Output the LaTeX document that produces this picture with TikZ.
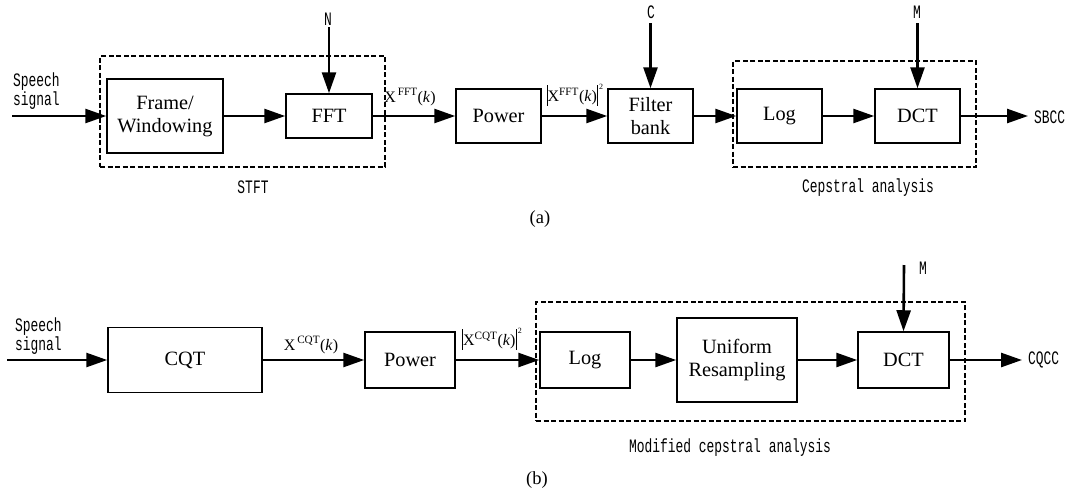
\documentclass[tikz,border=0pt]{standalone}
\usepackage{fontspec}
\setmainfont{Liberation Serif}
\newfontfamily\monof[FakeStretch=0.68]{Liberation Mono}
\usetikzlibrary{arrows.meta}
\tikzset{
  box/.style={draw, line width=1.5pt, font=\fontsize{20.3}{23}\selectfont, align=center, inner sep=0pt},
  dbox/.style={draw, line width=1.8pt, dash pattern=on 5pt off 2.5pt, inner sep=0pt},
  arr/.style={line width=2.6pt, -{Triangle[length=21pt,width=14pt]}},
  mono/.style={font=\monof\fontsize{19}{19}\selectfont, inner sep=0pt},
  sig/.style={font=\fontsize{16}{18}\selectfont, inner sep=0pt},
  subcap/.style={font=\fontsize{18.5}{20}\selectfont, inner sep=0pt}
}
\newcommand{\xsup}[1]{X\textsuperscript{\,#1}(\textit{k})}
\newcommand{\absbar}{\rule[-4.5pt]{0.9pt}{21pt}}
\newcommand{\xabs}[1]{\absbar X\textsuperscript{#1}(\textit{k})\absbar\raisebox{12pt}{\fontsize{8}{8}\selectfont\,2}}
\begin{document}
\begin{tikzpicture}[x=1pt,y=-1pt]
\useasboundingbox (0,0) rectangle (1070,493);
% ---------- (a) ----------
\node[dbox, minimum width=285pt, minimum height=111pt] (stft) at (242.5,111.5) {};
\node[dbox, minimum width=243pt, minimum height=106pt] (cep) at (854.5,114) {};
\node[box, minimum width=116pt, minimum height=74pt] (fw) at (165,116) {Frame/\\Windowing};
\node[box, minimum width=86pt, minimum height=44pt] (fft) at (329,116) {FFT};
\node[box, minimum width=85pt, minimum height=54pt] (pow1) at (498.5,116) {Power};
\node[box, minimum width=85pt, minimum height=54pt] (fb) at (650.5,116) {Filter\\bank};
\node[box, minimum width=85pt, minimum height=54pt] (log1) at (779.5,116) {Log};
\node[box, minimum width=85pt, minimum height=54pt] (dct1) at (917.5,116) {DCT};

\node[mono, align=left, anchor=west] (sp1) at (13,91) {Speech\\signal};
\node[mono] (N) at (328,19) {N};
\node[mono] (C) at (651,12) {C};
\node[mono] (M1) at (917,12) {M};
\node[mono, anchor=west] (sbcc) at (1034,117) {SBCC};
\node[mono] (stftl) at (253,187) {STFT};
\node[mono] (cepl) at (868,188) {Cepstral analysis};
\node[sig] (l1) at (410,97) {\xsup{FFT}};
\node[sig] (l2) at (575,95) {\xabs{FFT}};
\node[subcap] (capa) at (540,219) {(a)};

\coordinate (in1) at (12,116);
\coordinate (ns) at (329,27);
\coordinate (cs) at (650.5,23);
\coordinate (ms) at (917.5,23);
\coordinate (out1) at (1028,116);
\draw[arr] (in1) -- (fw.west);
\draw[arr] (fw.east) -- (fft.west);
\draw[arr] (fft.east) -- (pow1.west);
\draw[arr] (pow1.east) -- (fb.west);
\draw[arr] (fb.east) -- (log1.west);
\draw[arr] (log1.east) -- (dct1.west);
\draw[arr] (dct1.east) -- (out1);
\draw[arr] (ns) -- (fft.north);
\draw[arr] (cs) -- (fb.north);
\draw[arr] (ms) -- (dct1.north);

% ---------- (b) ----------
\node[dbox, minimum width=429pt, minimum height=119pt] (mca) at (750.5,361.5) {};
\node[box, minimum width=154pt, minimum height=65pt] (cqt) at (185,360) {CQT};
\node[box, minimum width=90pt, minimum height=56pt] (pow2) at (410,360) {Power};
\node[box, minimum width=90pt, minimum height=56pt] (log2) at (585,360) {Log};
\node[box, minimum width=120pt, minimum height=84pt] (rs) at (737,360) {Uniform\\Resampling};
\node[box, minimum width=91pt, minimum height=56pt] (dct2) at (903.5,360) {DCT};

\node[mono, align=left, anchor=west] (sp2) at (15,336) {Speech\\signal};
\node[mono] (M2) at (923,268) {M};
\node[mono, anchor=west] (cqcc) at (1028,360) {CQCC};
\node[mono] (mcal) at (730,448) {Modified cepstral analysis};
\node[sig] (l3) at (311,345) {\xsup{CQT}};
\node[sig] (l4) at (492,339) {\xabs{CQT}};
\node[subcap] (capb) at (537,480) {(b)};

\coordinate (in2) at (7,360);
\coordinate (m2s) at (904,265);
\coordinate (out2) at (1022,360);
\draw[arr] (in2) -- (cqt.west);
\draw[arr] (cqt.east) -- (pow2.west);
\draw[arr] (pow2.east) -- (log2.west);
\draw[arr] (log2.east) -- (rs.west);
\draw[arr] (rs.east) -- (dct2.west);
\draw[arr] (dct2.east) -- (out2);
\draw[arr] (m2s) -- (dct2.north);
\end{tikzpicture}
\end{document}
